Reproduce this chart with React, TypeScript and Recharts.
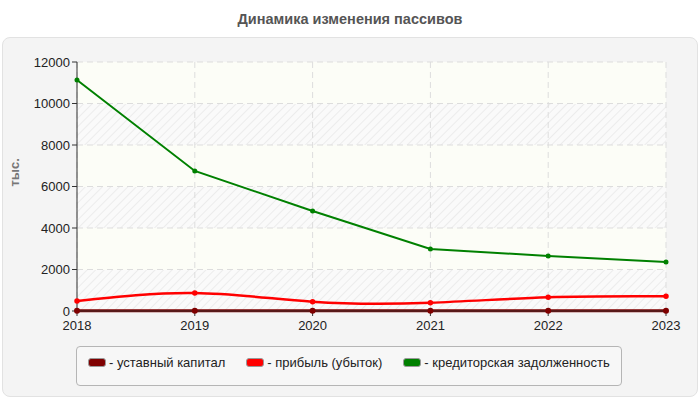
import { LineChart, Line, XAxis, YAxis, CartesianGrid } from 'recharts';

const years = ['2018', '2019', '2020', '2021', '2022', '2023'];
const ustavnyi = [10, 10, 10, 10, 10, 10];
const pribyl = [480, 865, 450, 400, 660, 705];
const kreditor = [11130, 6750, 4820, 2990, 2650, 2360];
const yTicks = [0, 2000, 4000, 6000, 8000, 10000, 12000];

const series = [
  { key: 'ustavnyi', name: 'уставный капитал', color: '#7f0000', width: 3, curve: 'linear' },
  { key: 'pribyl', name: 'прибыль (убыток)', color: '#ff0000', width: 2.5, curve: 'natural' },
  { key: 'kreditor', name: 'кредиторская задолженность', color: '#008000', width: 2, curve: 'linear' },
];

const data = years.map((y, i) => ({
  year: y,
  ustavnyi: ustavnyi[i],
  pribyl: pribyl[i],
  kreditor: kreditor[i],
}));

const font = '"Liberation Sans", Arial, sans-serif';

function LegendBox() {
  return (
    <div
      style={{
        position: 'absolute',
        left: 76,
        top: 346,
        width: 546,
        height: 40,
        border: '1px solid #b5b5b5',
        borderRadius: 4,
        background: '#f7f7f7',
        display: 'flex',
        alignItems: 'center',
        paddingLeft: 11,
        boxSizing: 'border-box',
        fontFamily: font,
        fontSize: 13,
        color: '#222',
        whiteSpace: 'nowrap',
      }}
    >
      {series.map((s) => (
        <div
          key={s.key}
          style={{ display: 'flex', alignItems: 'center', marginRight: 21, marginTop: -8, flexShrink: 0 }}
        >
          <span
            style={{
              display: 'inline-block',
              width: 16,
              height: 7,
              background: s.color,
              border: '1px solid #999',
              borderRadius: 3,
              marginRight: 3,
            }}
          />
          <span>- {s.name}</span>
        </div>
      ))}
    </div>
  );
}

export default function App() {
  return (
    <div style={{ position: 'absolute', left: 0, top: 0, width: 700, height: 400, background: '#fff', fontFamily: font }}>
      <div
        style={{
          position: 'absolute',
          left: 0,
          top: 11,
          width: 700,
          textAlign: 'center',
          fontWeight: 'bold',
          fontSize: 14.5,
          color: '#555',
        }}
      >
        Динамика изменения пассивов
      </div>
      <div
        style={{
          position: 'absolute',
          left: 2,
          top: 37,
          width: 694,
          height: 358,
          background: '#f4f4f4',
          border: '1px solid #e2e2e2',
          borderRadius: 8,
        }}
      />
      <div style={{ position: 'absolute', left: 0, top: 0 }}>
        <LineChart width={700} height={400} data={data} margin={{ top: 62, right: 34, bottom: 59, left: 7 }}>
          <defs>
            <pattern id="hatch" width="6" height="6" patternUnits="userSpaceOnUse" patternTransform="rotate(45)">
              <rect width="6" height="6" fill="#fafafa" />
              <line x1="0" y1="0" x2="0" y2="6" stroke="#ececec" strokeWidth="2" />
            </pattern>
          </defs>
          <CartesianGrid
            stroke="#dddddd"
            strokeDasharray="6 4"
            horizontalFill={['#fcfdf7', 'url(#hatch)']}
            fillOpacity={1}
          />
          <XAxis
            dataKey="year"
            interval={0}
            tickSize={5}
            tickMargin={5}
            axisLine={{ stroke: '#333' }}
            tickLine={{ stroke: '#333' }}
            tick={{ fill: '#222', fontSize: 13, fontFamily: font }}
          />
          <YAxis
            width={70}
            domain={[0, 12000]}
            ticks={yTicks}
            interval={0}
            tickSize={5}
            tickMargin={2}
            axisLine={{ stroke: '#333' }}
            tickLine={{ stroke: '#333' }}
            tick={{ fill: '#222', fontSize: 13, fontFamily: font }}
            label={{
              value: 'тыс.',
              angle: -90,
              position: 'insideLeft',
              offset: 7,
              style: { fill: '#777', fontWeight: 'bold', fontSize: 13, fontFamily: font },
            }}
          />
          {series.map((s) => (
            <Line
              key={s.key}
              type={s.curve as any}
              dataKey={s.key}
              name={s.name}
              stroke={s.color}
              strokeWidth={s.width}
              dot={{ r: 1.5, fill: s.color, stroke: s.color }}
              activeDot={false}
              isAnimationActive={false}
            />
          ))}
        </LineChart>
      </div>
      <LegendBox />
    </div>
  );
}
